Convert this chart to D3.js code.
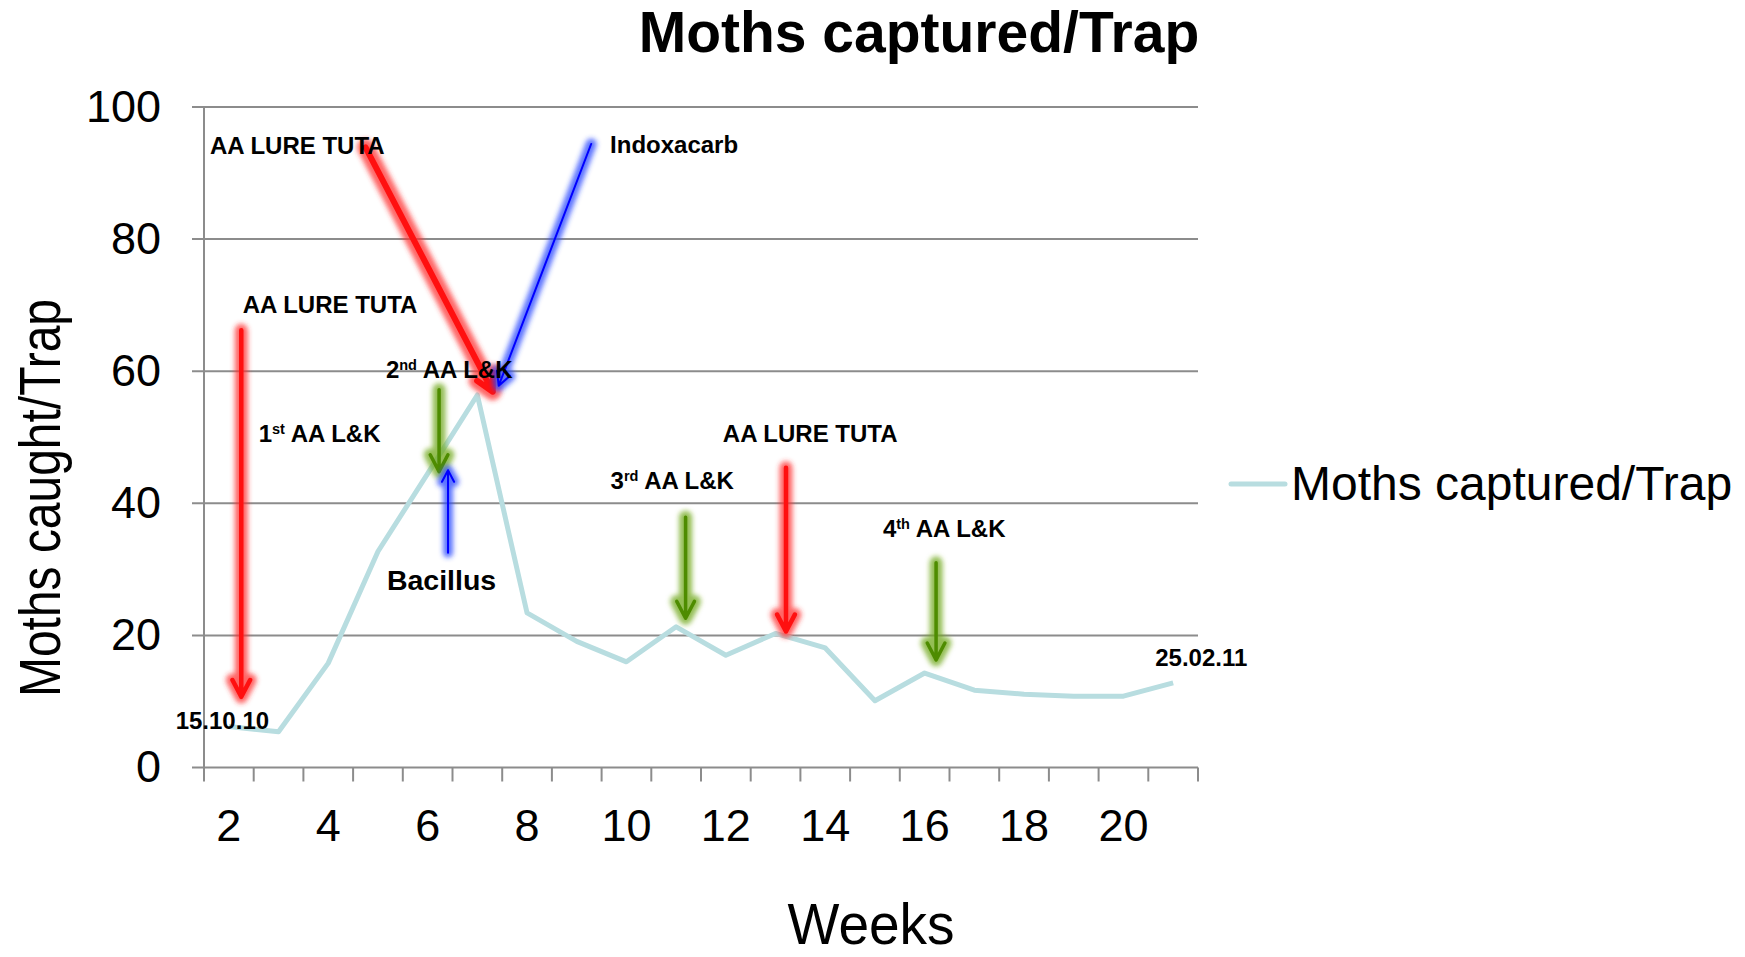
<!DOCTYPE html>
<html>
<head>
<meta charset="utf-8">
<script src="https://cdn.jsdelivr.net/npm/d3@7"></script>
<style>
  body { margin: 0; background: #fff; }
  svg { display: block; font-family: "Liberation Sans", Arial, sans-serif; }
</style>
</head>
<body>
<div id="chart"></div>
<script>
// weeks on the x axis and trap counts
var weeks = [2, 3, 4, 5, 6, 7, 8, 9, 10, 11, 12, 13, 14, 15, 16, 17, 18, 19, 20, 21]
var moths = [6.2, 5.4, 15.8, 32.7, 44.5, 56.4, 23.4, 19.1, 16.0, 21.3, 17.0, 20.3, 18.1, 10.1, 14.3, 11.7, 11.1, 10.8, 10.8, 12.8]
var yTicks = [0, 20, 40, 60, 80, 100]

// treatment arrows: [week, value] of tail and tip
var arrowKind = ["red", "red", "blue", "green", "blueThin", "green", "red", "green"]
var arrowFrom = [[2.25, 66.2], [4.75, 93.9], [9.29, 94.4], [6.23, 57.2], [6.41, 32.5], [11.19, 37.9], [13.21, 45.4], [16.23, 31.0]]
var arrowTo   = [[2.25, 10.7], [7.31, 56.9], [7.43, 57.8], [6.23, 44.8], [6.41, 45.0], [11.19, 22.6], [13.21, 20.6], [16.23, 16.3]]

// notes: [week, value] of the text start, text, superscript
var noteText = ["AA LURE TUTA", "Indoxacarb", "AA LURE TUTA", "1", "2", "Bacillus", "3", "AA LURE TUTA", "4", "25.02.11", "15.10.10"]
var noteSup  = ["", "", "", "st", "nd", "", "rd", "", "th", "", ""]
var noteTail = ["", "", "", " AA L&K", " AA L&K", "", " AA L&K", "", " AA L&K", "", ""]
var notePos  = [[1.62, 92.9], [9.67, 93.0], [2.28, 68.8], [2.6, 49.3], [5.16, 59.0], [5.18, 26.9], [9.68, 42.1], [11.94, 49.3], [15.16, 34.9], [20.64, 15.4], [0.93, 5.8]]

var width = 1745
var height = 957
var plotL = 204, plotR = 1198, plotT = 107, plotB = 767.5

var svg = d3.select("#chart").append("svg")
  .attr("width", width)
  .attr("height", height)

// blur used for the glow round the arrows
svg.append("defs").append("filter")
  .attr("id", "glow")
  .attr("filterUnits", "userSpaceOnUse")
  .attr("x", 0).attr("y", 0).attr("width", width).attr("height", height)
  .append("feGaussianBlur").attr("stdDeviation", 2.6)

var x = d3.scaleBand().domain(weeks).range([plotL, plotR]).padding(0)
var xw = d3.scaleLinear().domain([1.5, 21.5]).range([plotL, plotR])  // fractional weeks
var y = d3.scaleLinear().domain([0, 100]).range([plotB, plotT])
var grey = "#8c8c8c"

// gridlines
svg.append("g").selectAll("line")
  .data(yTicks)
  .enter().append("line")
  .attr("x1", plotL - 12).attr("x2", plotR)
  .attr("y1", function(d) { return y(d) }).attr("y2", function(d) { return y(d) })
  .attr("stroke", grey).attr("stroke-width", 2)

// y axis
var yAxis = svg.append("g")
  .attr("transform", "translate(" + plotL + ",0)")
  .call(d3.axisLeft(y).tickValues(yTicks).tickSize(0).tickPadding(43))
yAxis.select(".domain").remove()
yAxis.selectAll("text").style("font-size", "45px").attr("fill", "#000")

svg.append("line")
  .attr("x1", plotL).attr("x2", plotL)
  .attr("y1", plotT).attr("y2", plotB + 14)
  .attr("stroke", grey).attr("stroke-width", 2)

// x axis: labels on every second week, ticks between the weeks
var xAxis = svg.append("g")
  .attr("transform", "translate(0," + plotB + ")")
  .call(d3.axisBottom(x).tickSize(0).tickPadding(42)
    .tickFormat(function(d) { return d % 2 === 0 ? d : "" }))
xAxis.select(".domain").remove()
xAxis.selectAll("text").style("font-size", "45px").attr("fill", "#000")

svg.append("g").selectAll("line")
  .data(weeks)
  .enter().append("line")
  .attr("x1", function(d) { return x(d) + x.bandwidth() }).attr("x2", function(d) { return x(d) + x.bandwidth() })
  .attr("y1", plotB).attr("y2", plotB + 14)
  .attr("stroke", grey).attr("stroke-width", 2)

// the series
var line = d3.line()
  .x(function(d, i) { return x(weeks[i]) + x.bandwidth() / 2 })
  .y(function(d) { return y(d) })

svg.append("path")
  .datum(moths)
  .attr("d", line)
  .attr("fill", "none")
  .attr("stroke", "#b8dde0")
  .attr("stroke-width", 5)
  .attr("stroke-linejoin", "round")

// arrows with a soft glow
var styles = {
  red:      { core: "#ff1010", glow: "#ff3030", cw: 4.5, gw: 13, head: 19 },
  blue:     { core: "#0000ff", glow: "#2848ff", cw: 2,   gw: 11, head: 15 },
  blueThin: { core: "#0000ff", glow: "#2848ff", cw: 2,   gw: 10, head: 13 },
  green:    { core: "#4e8c00", glow: "#70a818", cw: 3.5, gw: 13, head: 19 }
}

function arrowPath(i) {
  var x1 = xw(arrowFrom[i][0]), y1 = y(arrowFrom[i][1])
  var x2 = xw(arrowTo[i][0]), y2 = y(arrowTo[i][1])
  var a = Math.atan2(y2 - y1, x2 - x1)
  var L = styles[arrowKind[i]].head, s = Math.PI / 6.5
  var hx1 = x2 - L * Math.cos(a - s), hy1 = y2 - L * Math.sin(a - s)
  var hx2 = x2 - L * Math.cos(a + s), hy2 = y2 - L * Math.sin(a + s)
  return "M" + x1 + "," + y1 + "L" + x2 + "," + y2 +
    "M" + hx1 + "," + hy1 + "L" + x2 + "," + y2 + "L" + hx2 + "," + hy2
}

var arrows = svg.append("g").selectAll("g")
  .data(d3.range(arrowKind.length))
  .enter().append("g")

// red diagonal is drawn a bit thicker
arrows.append("path")
  .attr("d", arrowPath)
  .attr("fill", "none")
  .attr("stroke", function(i) { return styles[arrowKind[i]].glow })
  .attr("stroke-width", function(i) { return styles[arrowKind[i]].gw + (i === 1 ? 4 : 0) })
  .attr("stroke-opacity", 0.75)
  .attr("stroke-linecap", "round")
  .attr("stroke-linejoin", "round")
  .attr("filter", "url(#glow)")

arrows.append("path")
  .attr("d", arrowPath)
  .attr("fill", "none")
  .attr("stroke", function(i) { return styles[arrowKind[i]].core })
  .attr("stroke-width", function(i) { return styles[arrowKind[i]].cw + (i === 1 ? 1.5 : 0) })
  .attr("stroke-linecap", "round")
  .attr("stroke-linejoin", "round")

// notes
var notes = svg.append("g").selectAll("text")
  .data(d3.range(noteText.length))
  .enter().append("text")
  .attr("x", function(i) { return xw(notePos[i][0]) })
  .attr("y", function(i) { return y(notePos[i][1]) })
  .style("font-weight", "bold")
  .style("font-size", function(i) { return noteText[i] === "Bacillus" ? "28.5px" : "24px" })
  .attr("fill", "#000")

notes.append("tspan").text(function(i) { return noteText[i] })
notes.filter(function(i) { return noteSup[i] !== "" })
  .append("tspan")
  .attr("dy", -8)
  .style("font-size", "14.5px")
  .text(function(i) { return noteSup[i] })
notes.filter(function(i) { return noteTail[i] !== "" })
  .append("tspan")
  .attr("dy", 8)
  .text(function(i) { return noteTail[i] })

// titles
svg.append("text")
  .attr("x", 919).attr("y", 52)
  .attr("text-anchor", "middle")
  .style("font-weight", "bold")
  .style("font-size", "57px")
  .text("Moths captured/Trap")

svg.append("text")
  .attr("transform", "translate(60,498) rotate(-90)")
  .attr("text-anchor", "middle")
  .attr("textLength", 398)
  .attr("lengthAdjust", "spacingAndGlyphs")
  .style("font-size", "58px")
  .text("Moths caught/Trap")

svg.append("text")
  .attr("x", 871).attr("y", 944)
  .attr("text-anchor", "middle")
  .attr("textLength", 167)
  .attr("lengthAdjust", "spacingAndGlyphs")
  .style("font-size", "57px")
  .text("Weeks")

// legend
var legend = svg.append("g").attr("transform", "translate(1231,484)")
legend.append("line")
  .attr("x1", 0).attr("x2", 54)
  .attr("stroke", "#b8dde0").attr("stroke-width", 5).attr("stroke-linecap", "round")
legend.append("text")
  .attr("x", 60).attr("y", 16)
  .style("font-size", "48px")
  .text("Moths captured/Trap")
</script>
</body>
</html>
